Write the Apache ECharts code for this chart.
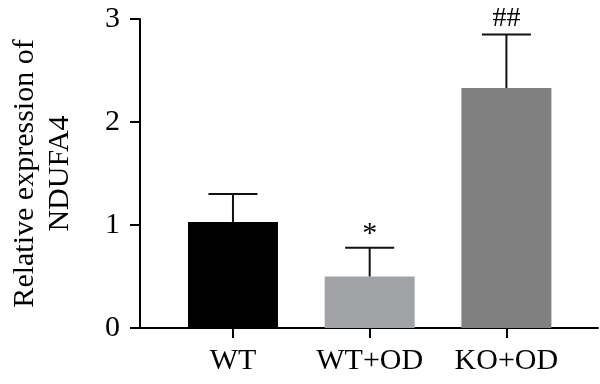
<!DOCTYPE html>
<html>
<head>
<meta charset="utf-8">
<script src="https://cdn.jsdelivr.net/npm/echarts@6/dist/echarts.min.js"></script>
<style>html,body{margin:0;padding:0;background:#fff}#c{width:600px;height:384px}</style>
</head>
<body>
<div id="c"></div>
<script>
var categories = ['WT', 'WT+OD', 'KO+OD'];
var means = [1.03, 0.50, 2.33];
var upper = [1.30, 0.78, 2.85];
var marks = ['', '*', '##'];
var barColors = ['#000000', '#a2a3a6', '#808080'];
var yTicks = [0, 1, 2, 3];

var chart = echarts.init(document.getElementById('c'), null, {renderer: 'canvas'});
var font = '"Liberation Serif", "Times New Roman", Times, serif';
var markStyle = {'*': {size: 30, dy: 1}, '##': {size: 28, dy: -2}};

var barData = means.map(function (v, i) {
  return {value: [i, v], itemStyle: {color: barColors[i]}};
});
var errData = means.map(function (v, i) { return [i, v, upper[i]]; });

chart.setOption({
  animation: false,
  grid: {left: 130, right: 2, top: 19, bottom: 56, containLabel: false},
  xAxis: {
    type: 'value', min: -0.68, max: 2.67,
    splitLine: {show: false},
    axisLine: {show: true, onZero: false, lineStyle: {color: '#000', width: 2}},
    axisTick: {show: true, length: 10, lineStyle: {color: '#000', width: 2}, customValues: [0, 1, 2]},
    axisLabel: {
      customValues: [0, 1, 2], margin: 18,
      fontFamily: font, fontSize: 30, color: '#000',
      formatter: function (v) { return categories[Math.round(v)]; }
    }
  },
  yAxis: {
    type: 'value', min: 0, max: 3, interval: 1,
    splitLine: {show: false},
    axisLine: {show: true, onZero: false, lineStyle: {color: '#000', width: 2}},
    axisTick: {show: true, length: 10, lineStyle: {color: '#000', width: 2}},
    axisLabel: {margin: 20, fontFamily: font, fontSize: 30, color: '#000',
      formatter: function (v) { return yTicks.indexOf(v) >= 0 ? String(v) : ''; }},
    name: 'Relative expression of\nNDUFA4',
    nameLocation: 'middle', nameRotate: 90, nameGap: 62,
    nameTextStyle: {fontFamily: font, fontSize: 30, color: '#000', lineHeight: 35}
  },
  series: [
    {type: 'bar', data: barData, barWidth: 90},
    {
      type: 'custom', data: errData, z: 5,
      renderItem: function (params, api) {
        var x = api.value(0);
        var base = api.coord([x, api.value(1)]);
        var top = api.coord([x, api.value(2)]);
        var half = 24.5;
        var children = [
          {type: 'line', shape: {x1: base[0], y1: base[1], x2: top[0], y2: top[1]},
            style: {stroke: '#111', lineWidth: 2}},
          {type: 'line', shape: {x1: top[0] - half, y1: top[1], x2: top[0] + half, y2: top[1]},
            style: {stroke: '#111', lineWidth: 2}}
        ];
        var m = marks[params.dataIndex];
        if (m) {
          var ms = markStyle[m];
          children.push({type: 'text', x: top[0], y: top[1] + ms.dy, z2: 10,
            style: {text: m, fontFamily: font, fontSize: ms.size, fill: '#000',
              align: 'center', verticalAlign: 'bottom'}});
        }
        return {type: 'group', children: children};
      }
    }
  ]
});
</script>
</body>
</html>
